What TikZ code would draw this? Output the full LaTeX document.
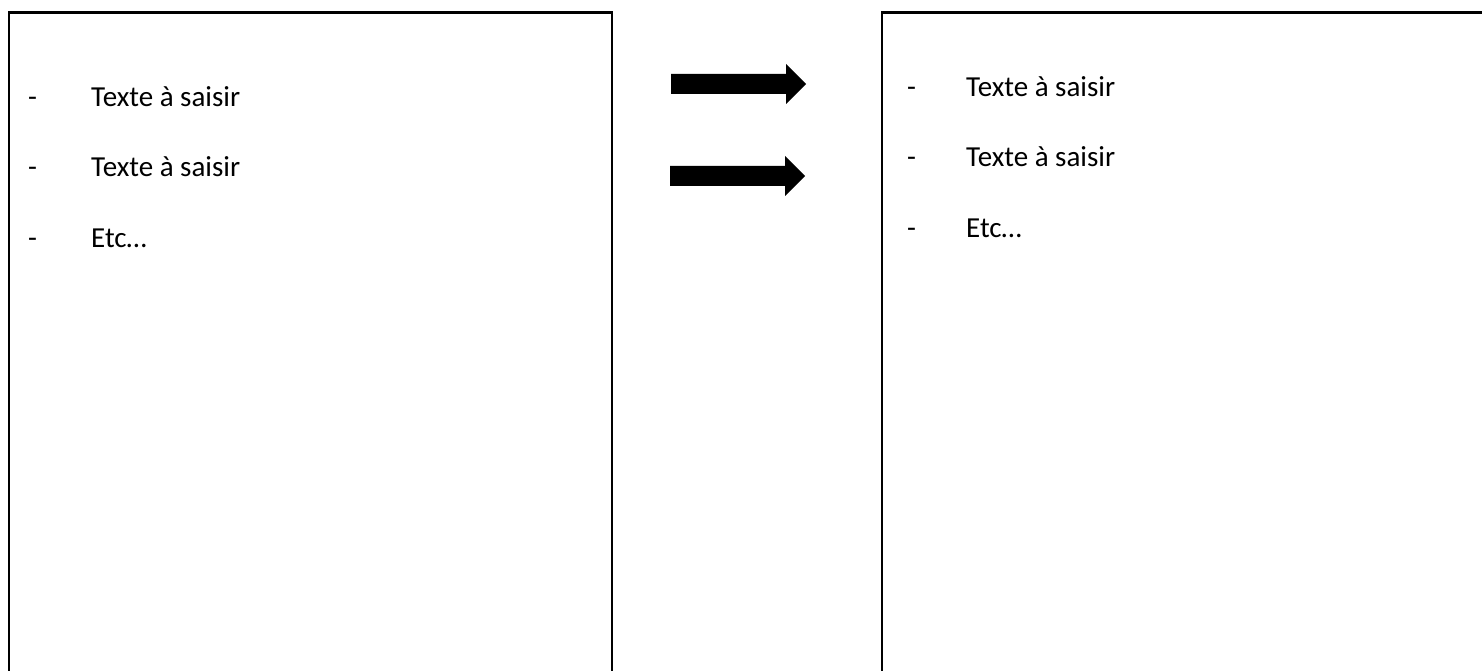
\documentclass[tikz,border=0pt]{standalone}
\usepackage{fontspec}
\setmainfont{Carlito}
\begin{document}
\begin{tikzpicture}[x=1pt,y=-1pt,
  panel/.style={draw=black,line width=2.5pt},
  blockarrow/.style={fill=black,draw=none},
  item/.style={anchor=base west,inner sep=0pt,font=\fontsize{29}{35}\selectfont}]
\useasboundingbox (0,0) rectangle (1482,671);
\clip (0,0) rectangle (1482,671);
\fill[white] (0,0) rectangle (1482,671);
% panels
\draw[panel] (9,12.5) rectangle (612,700);
\draw[panel] (882,12.5) rectangle (1520,700);
% arrows
\fill[blockarrow] (671,74) -- (786,74) -- (786,64) -- (806,84) -- (786,104) -- (786,94) -- (671,94) -- cycle;
\fill[blockarrow] (670,166) -- (785,166) -- (785,156) -- (805,176) -- (785,196) -- (785,186) -- (670,186) -- cycle;
% left texts
\node[item] (ld1) at (28,107) {-};
\node[item] (lt1) at (91,107) {Texte à saisir};
\node[item] (ld2) at (28,177) {-};
\node[item] (lt2) at (91,177) {Texte à saisir};
\node[item] (ld3) at (28,247) {-};
\node[item] (lt3) at (91,247) {Etc…};
% right texts
\node[item] (rd1) at (907,97) {-};
\node[item] (rt1) at (966,97) {Texte à saisir};
\node[item] (rd2) at (907,167) {-};
\node[item] (rt2) at (966,167) {Texte à saisir};
\node[item] (rd3) at (907,237) {-};
\node[item] (rt3) at (966,237) {Etc…};
\end{tikzpicture}
\end{document}
